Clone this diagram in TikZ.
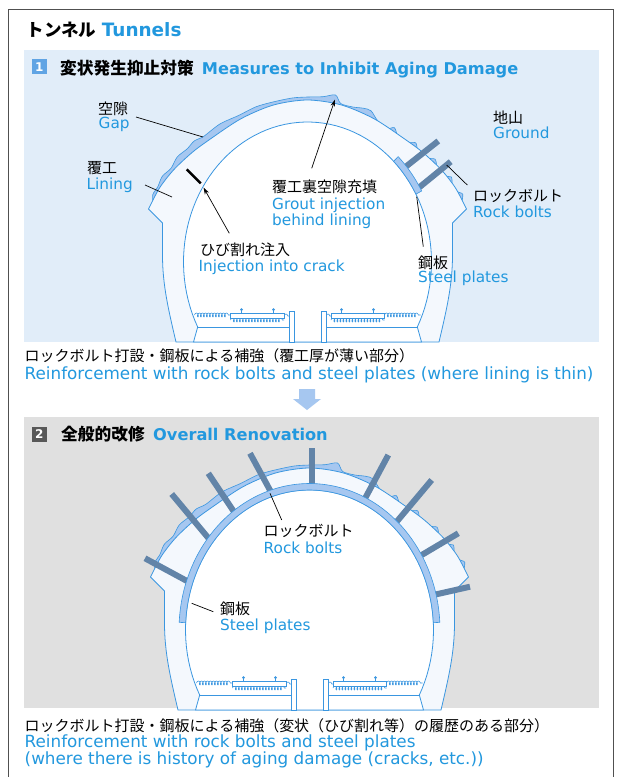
\documentclass[tikz,border=0pt]{standalone}
\usepackage{fontspec}
\setmainfont{DejaVu Sans}
\newfontfamily\jp{Noto Sans CJK JP}
\usetikzlibrary{arrows.meta,decorations.pathmorphing}

\definecolor{tblue}{RGB}{34,152,222}
\definecolor{lineblue}{RGB}{58,150,224}
\definecolor{panelblue}{RGB}{225,237,249}
\definecolor{panelgray}{RGB}{224,224,224}
\definecolor{liningfill}{RGB}{244,248,253}
\definecolor{gapblue}{RGB}{166,199,240}
\definecolor{boltgray}{RGB}{98,132,168}
\definecolor{numblue}{RGB}{96,164,228}
\definecolor{numgray}{RGB}{88,88,88}
\definecolor{framegray}{RGB}{80,80,80}

\tikzset{
  lining/.style={draw=lineblue, fill=liningfill, line width=0.8pt},
  gap/.style={draw=lineblue, fill=gapblue, line width=0.6pt},
  tunnelin/.style={draw=lineblue, fill=white, line width=0.8pt},
  road/.style={draw=lineblue, line width=0.7pt},
  gravel/.style={draw=lineblue, line width=0.6pt, decorate,
    decoration={coil, aspect=0.6, segment length=3pt, amplitude=2pt}},
  bolt/.style={draw=boltgray, line width=6pt},
  plate/.style={draw=lineblue, fill=gapblue, line width=0.6pt},
  leader/.style={draw=black, line width=0.7pt},
  numbox/.style={minimum size=15pt, inner sep=0pt, text=white,
    font=\bfseries\fontsize{12}{12}\selectfont},
  titlejp/.style={font=\jp\bfseries\fontsize{17.5}{20}\selectfont, inner sep=0pt, anchor=base west},
  titleen/.style={font=\bfseries\fontsize{18.4}{20}\selectfont, text=tblue, inner sep=0pt, anchor=base west},
  headjp/.style={font=\jp\bfseries\fontsize{16.7}{20}\selectfont, inner sep=0pt, anchor=base west},
  headen/.style={font=\bfseries\fontsize{16.2}{20}\selectfont, text=tblue, inner sep=0pt, anchor=base west},
  jp/.style={font=\jp\fontsize{15}{18}\selectfont, inner sep=0pt, anchor=base west},
  en/.style={font=\fontsize{15.3}{18}\selectfont, text=tblue, inner sep=0pt, anchor=base west},
  capjp/.style={font=\jp\fontsize{15}{18}\selectfont, inner sep=0pt, anchor=base west},
  capen/.style={font=\fontsize{16.8}{19}\selectfont, text=tblue, inner sep=0pt, anchor=base west},
  >={Stealth[length=7pt,width=4.5pt]}
}

% gap and lining of one tunnel, centre line at x=0
\newcommand{\tunnelouter}{%
  \draw[gap] plot[smooth] coordinates {(-154,206) (-154.8,194.9) (-149.8,187) (-145.2,176.3)
    (-136.4,168.2) (-130.3,157) (-120.2,148.7) (-113.3,141) (-103.7,136.3) (-87.6,124)
    (-68.6,115.3) (-51.5,106.8) (-34.6,102) (-15.3,98) (0,97) (15.4,96.7) (28,95)
    (33.2,103.5) (45.3,107) (55.8,108.2) (63.5,110.8) (70,120.5) (79.5,128.5) (86.9,127.7)
    (90.5,136) (100,142) (108.3,142.9) (110.5,150.5) (119.5,158) (127.6,159.2) (130,167.5)
    (138,176) (143.9,177) (145,185) (149,191.5) (155.2,194.1) (154,203)} -- cycle;
  \draw[lining] (-131.5,342) .. controls (-139,310) and (-145,285) .. (-145,255) -- (-145,223)
    -- plot[smooth] coordinates {(-159,209) (-148,188) (-134,170) (-116,153) (-100,141)
      (-67,119) (-34,105) (0,100) (34,105) (67,119) (100,141) (116,153) (134,170)
      (148,188) (159,209)}
    -- (145,223) -- (145,255) .. controls (145,285) and (139,310) .. (131.5,342) -- cycle;
}
% inner space and road
\newcommand{\tunnelinner}{%
  \draw[tunnelin] (-114,342) -- (-109.8,327)
    -- plot[domain=152.34:387.66, samples=80] ({124*cos(\x)},{262+140*sin(\x)})
    -- (114,342) -- cycle;
  \draw[road] (-109.8,327) -- (-18.5,327);
  \draw[road] (18.5,327) -- (109.8,327);
  \draw[gravel] (-113,315) -- (-77,315);
  \draw[gravel] (-77,320) -- (-23.5,320);
  \draw[gravel] (77,315) -- (113,315);
  \draw[gravel] (23.5,320) -- (77,320);
  \draw[gravel] (-23.5,316) -- (-18.5,316);
  \draw[gravel] (18.5,316) -- (23.5,316);
  \draw[road, fill=white] (-77,313.5) rectangle (-23.5,318.5);
  \draw[road, fill=white] (23.5,313.5) rectangle (77,318.5);
  \foreach \p in {-66,-34,34,66} {
    \draw[road] (\p,313.5) -- (\p,309.5);
    \fill[lineblue] (\p,309.5) circle (1.5pt);
  }
  \draw[road, fill=white] (-18.5,311.7) rectangle (-13.5,342);
  \draw[road, fill=white] (13.5,311.7) rectangle (18.5,342);
}

\begin{document}
\begin{tikzpicture}[x=1pt,y=-1pt]
  \useasboundingbox (0,0) rectangle (627,777);
  \fill[white] (0,0) rectangle (627,777);
  \draw[framegray, line width=1.2pt] (8.5,790) -- (8.5,9.5) -- (613.5,9.5) -- (613.5,790);

  \node[titlejp] (titlejp) at (26.5,36.7) {トンネル};
  \node[titleen] (titleen) at (101.7,36.7) {Tunnels};

  % panel 1
  \fill[panelblue] (24,50) rectangle (599,342);
  \node[numbox, fill=numblue] (num1) at (39.2,66.7) {1};
  \node[headjp] (head1jp) at (60,74.3) {変状発生抑止対策};
  \node[headen] (head1en) at (201.7,74) {Measures to Inhibit Aging Damage};

  \begin{scope}[shift={(307.5,0)}]
    \tunnelouter
    \draw[bolt] (97.5,167.3) -- (130.8,141);
    \draw[bolt] (111.8,187.3) -- (143.2,161.7);
    \tunnelinner
    \draw[plate] plot[domain=314:331] ({130.5*cos(\x)},{262+146.5*sin(\x)})
      -- plot[domain=331:314] ({124*cos(\x)},{262+140*sin(\x)}) -- cycle;
  \end{scope}

  \node[jp] (gapjp) at (98,114) {空隙};
  \node[en] (gapen) at (98.5,128.2) {Gap};
  \node[jp] (liningjp) at (87,173.2) {覆工};
  \node[en] (liningen) at (86.5,189) {Lining};
  \node[jp] (groutjp) at (272,192.4) {覆工裏空隙充填};
  \node[en] (grouten) at (272,209) {Grout injection};
  \node[en] (grouten2) at (272,225.7) {behind lining};
  \node[jp] (crackjp) at (200,255.7) {ひび割れ注入};
  \node[en] (cracken) at (198.5,271.5) {Injection into crack};
  \node[jp] (groundjp) at (493,123.2) {地山};
  \node[en] (grounden) at (493,138.9) {Ground};
  \node[jp] (boltjp) at (473,201.5) {ロックボルト};
  \node[en] (bolten) at (473,217.3) {Rock bolts};
  \node[jp] (platejp) at (418,268.2) {鋼板};
  \node[en] (plateen) at (418,282.3) {Steel plates};

  \coordinate (gapa) at (136,117);
  \coordinate (gapb) at (203,137);
  \coordinate (lininga) at (145,185);
  \coordinate (liningb) at (172,197);
  \coordinate (cracka) at (186.7,169.3);
  \coordinate (crackb) at (200.7,183.3);
  \coordinate (crackc) at (229.3,233.3);
  \coordinate (crackd) at (203.5,187.5);
  \coordinate (grouta) at (311.7,168.3);
  \coordinate (groutb) at (335,99.5);
  \coordinate (bolta) at (467.3,185);
  \coordinate (boltb) at (446.7,165);
  \coordinate (platea) at (423.3,246.7);
  \coordinate (plateb) at (416.7,196.7);
  \draw[leader] (gapa) -- (gapb);
  \draw[leader] (lininga) -- (liningb);
  \draw[black, line width=2.4pt] (cracka) -- (crackb);
  \draw[leader, ->] (crackc) -- (crackd);
  \draw[leader, ->] (grouta) -- (groutb);
  \draw[leader] (bolta) -- (boltb);
  \draw[leader] (platea) -- (plateb);

  \node[capjp] (cap1jp) at (24.5,361.5) {ロックボルト打設・鋼板による補強（覆工厚が薄い部分）};
  \node[capen] (cap1en) at (24.5,379.4) {Reinforcement with rock bolts and steel plates (where lining is thin)};

  \fill[gapblue] (299,389) -- (315,389) -- (315,399) -- (321,399) -- (307,410) -- (293,399) -- (299,399) -- cycle;

  % panel 2
  \fill[panelgray] (24,417) rectangle (599,708);
  \node[numbox, fill=numgray] (num2) at (39.2,434.5) {2};
  \node[headjp] (head2jp) at (61,440.8) {全般的改修};
  \node[headen] (head2en) at (153,440.7) {Overall Renovation};

  \begin{scope}[shift={(309.5,368)}]
    \tunnelouter
    \draw[bolt] (-164.5,190.3) -- (-121.2,213.7);
    \draw[bolt] (-137.8,126) -- (-99.5,172);
    \draw[bolt] (-101.2,105.3) -- (-74.5,145.3);
    \draw[bolt] (-59.5,85.3) -- (-37.8,125.3);
    \draw[bolt] (2.2,80.3) -- (2.2,120.3);
    \draw[bolt] (78.8,87) -- (53.8,133.7);
    \draw[bolt] (122.2,112) -- (87.2,153.7);
    \draw[bolt] (148.8,165.3) -- (112.2,187);
    \draw[bolt] (160.5,218.7) -- (123.8,227);
    \tunnelinner
    \draw[plate] plot[domain=183:357, samples=80] ({130.5*cos(\x)},{262+146.5*sin(\x)})
      -- plot[domain=357:183, samples=80] ({124*cos(\x)},{262+140*sin(\x)}) -- cycle;
  \end{scope}

  \node[jp] (bolt2jp) at (263.5,536.5) {ロックボルト};
  \node[en] (bolt2en) at (263.5,553.1) {Rock bolts};
  \node[jp] (plate2jp) at (220,614.9) {鋼板};
  \node[en] (plate2en) at (220,630.7) {Steel plates};
  \coordinate (bolt2a) at (281.7,520);
  \coordinate (bolt2b) at (270,493.3);
  \coordinate (plate2a) at (213.3,611.7);
  \coordinate (plate2b) at (191.7,603.3);
  \draw[leader] (bolt2a) -- (bolt2b);
  \draw[leader] (plate2a) -- (plate2b);

  \node[capjp] (cap2jp) at (24.5,731.5) {ロックボルト打設・鋼板による補強（変状（ひび割れ等）の履歴のある部分）};
  \node[capen] (cap2en) at (24.5,747.7) {Reinforcement with rock bolts and steel plates};
  \node[capen] (cap2en2) at (24.5,764.4) {(where there is history of aging damage (cracks, etc.))};
\end{tikzpicture}
\end{document}
